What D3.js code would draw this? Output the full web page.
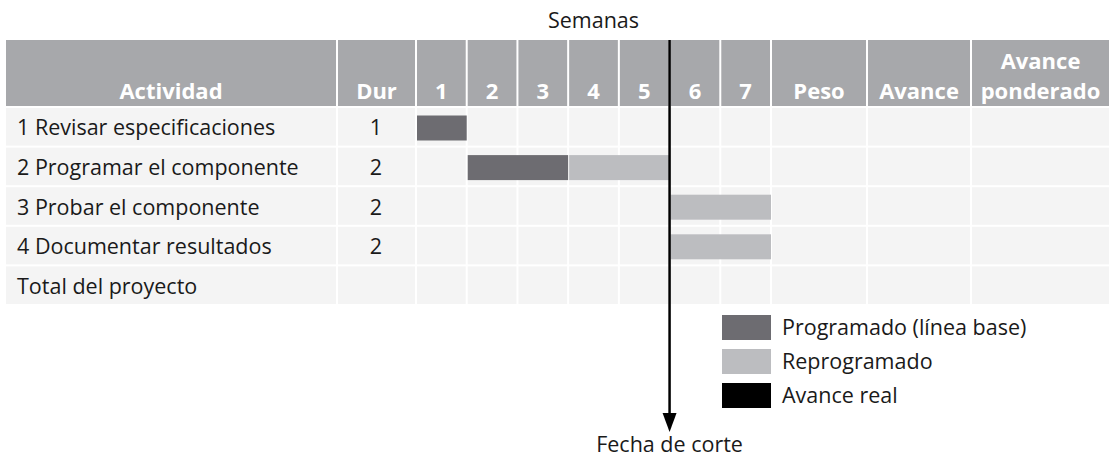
<!DOCTYPE html>
<html>
<head>
<meta charset="utf-8">
<script src="https://cdn.jsdelivr.net/npm/d3@7"></script>
<style>
  body { margin: 0; background: #fff; }
  text { font-family: "Open Sans", "Noto Sans", sans-serif; }
</style>
</head>
<body>
<script>
// data
var activities = ["1 Revisar especificaciones", "2 Programar el componente", "3 Probar el componente", "4 Documentar resultados", "Total del proyecto"];
var durations = ["1", "2", "2", "2", ""];
var weeks = [1, 2, 3, 4, 5, 6, 7];
var baseline = [{row: 0, start: 1, end: 1}, {row: 1, start: 2, end: 3}];
var rescheduled = [{row: 1, start: 4, end: 5}, {row: 2, start: 6, end: 7}, {row: 3, start: 6, end: 7}];
var cutoffWeek = 5; // end of week 5
var legendLabels = ["Programado (línea base)", "Reprogramado", "Avance real"];

var colHeader = "#a7a8ab", colCell = "#f4f4f4", colBase = "#6d6c71", colResch = "#bcbdc0";
var fs = 21.5, fsB = 22;

var svg = d3.select('body')
    .append('svg')
    .attr('width', 1113)
    .attr('height', 460)

var x = d3.scaleBand().domain(weeks).range([416, 771]);
var y = d3.scaleBand().domain(d3.range(activities.length)).range([107, 305]);

// other columns (left and right of the weeks)
var cols = [
  {name: "Actividad", x0: 5, x1: 337},
  {name: "Dur", x0: 337, x1: 416},
  {name: "Peso", x0: 771, x1: 867},
  {name: "Avance", x0: 867, x1: 971},
  {name: "Avance\nponderado", x0: 971, x1: 1110}
];
weeks.forEach(function (w) {
  cols.push({name: String(w), x0: x(w), x1: x(w) + x.bandwidth()});
});

// header
svg.selectAll(".hdr")
    .data(cols)
    .enter()
    .append("rect")
    .attr("x", d => d.x0 + 1)
    .attr("y", 40)
    .attr("width", d => d.x1 - d.x0 - 2)
    .attr("height", 66)
    .attr("fill", colHeader);

cols.forEach(function (c) {
  var lines = c.name.split("\n");
  lines.forEach(function (l, i) {
    svg.append("text")
      .attr("x", (c.x0 + c.x1) / 2)
      .attr("y", 99 - (lines.length - 1 - i) * 30)
      .attr("text-anchor", "middle")
      .attr("font-size", fsB)
      .attr("font-weight", "bold")
      .attr("fill", "#fff")
      .text(l);
  });
});

// body cells
activities.forEach(function (a, r) {
  svg.selectAll(".cell" + r)
    .data(cols)
    .enter()
    .append("rect")
    .attr("x", d => d.x0 + 1)
    .attr("y", y(r) + 1)
    .attr("width", d => d.x1 - d.x0 - 2)
    .attr("height", y.bandwidth() - 2)
    .attr("fill", colCell);
});

svg.selectAll(".act")
    .data(activities)
    .enter()
    .append("text")
    .attr("x", 17)
    .attr("y", (d, i) => y(i) + y.bandwidth() / 2 + 8.5)
    .attr("font-size", fs)
    .attr("fill", "#1a1a1a")
    .text(d => d);

svg.selectAll(".dur")
    .data(durations)
    .enter()
    .append("text")
    .attr("x", 376)
    .attr("y", (d, i) => y(i) + y.bandwidth() / 2 + 8.5)
    .attr("text-anchor", "middle")
    .attr("font-size", fs)
    .attr("fill", "#1a1a1a")
    .text(d => d);

// bars
function drawBars(data, color) {
  svg.selectAll(null)
    .data(data)
    .enter()
    .append("rect")
    .attr("x", d => x(d.start) + 1)
    .attr("y", d => y(d.row) + 8.5)
    .attr("width", d => x(d.end) + x.bandwidth() - x(d.start) - 1)
    .attr("height", 25)
    .attr("fill", color);
}
drawBars(baseline, colBase);
drawBars(rescheduled, colResch);

// title
svg.append("text")
    .attr("x", (x.range()[0] + x.range()[1]) / 2)
    .attr("y", 28)
    .attr("text-anchor", "middle")
    .attr("font-size", fs)
    .attr("fill", "#1a1a1a")
    .text("Semanas");

// cutoff line
var cx = x(cutoffWeek) + x.bandwidth();
svg.append("line")
    .attr("x1", cx).attr("x2", cx)
    .attr("y1", 40).attr("y2", 418)
    .attr("stroke", "#000")
    .attr("stroke-width", 2.5);
svg.append("path")
    .attr("d", "M" + (cx - 7) + ",413 L" + (cx + 7) + ",413 L" + cx + ",432 Z")
    .attr("fill", "#000");
svg.append("text")
    .attr("x", cx)
    .attr("y", 452)
    .attr("text-anchor", "middle")
    .attr("font-size", fs)
    .attr("fill", "#1a1a1a")
    .text("Fecha de corte");

// legend
var legColors = [colBase, colResch, "#000"];
var leg = svg.selectAll(".leg")
    .data(legendLabels)
    .enter()
    .append("g")
    .attr("transform", (d, i) => "translate(722," + (315 + i * 34) + ")");
leg.append("rect")
    .attr("width", 49)
    .attr("height", 25)
    .attr("fill", (d, i) => legColors[i]);
leg.append("text")
    .attr("x", 60)
    .attr("y", 19.5)
    .attr("font-size", fs)
    .attr("fill", "#1a1a1a")
    .text(d => d);
</script>
</body>
</html>
